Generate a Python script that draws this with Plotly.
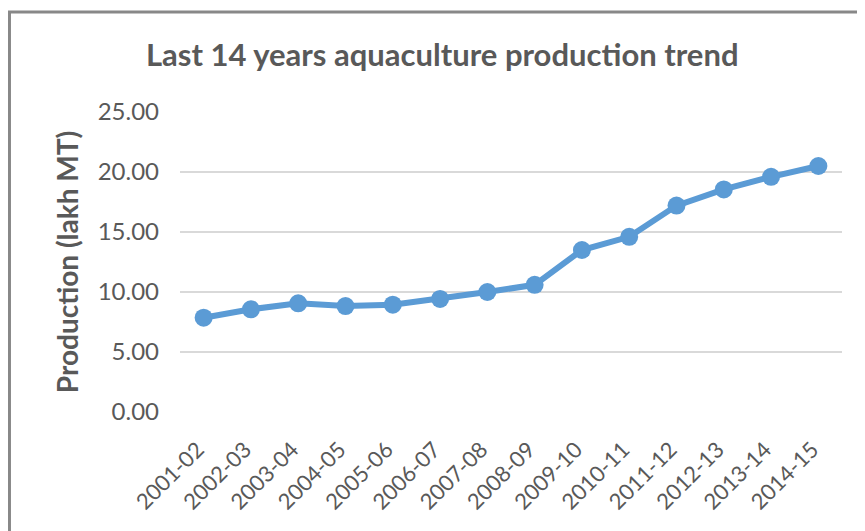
import plotly.graph_objects as go

years = ["2001-02", "2002-03", "2003-04", "2004-05", "2005-06", "2006-07",
         "2007-08", "2008-09", "2009-10", "2010-11", "2011-12", "2012-13",
         "2013-14", "2014-15"]
production = [7.86, 8.56, 9.06, 8.83, 8.94, 9.42, 10.0, 10.6, 13.5, 14.6,
              17.2, 18.55, 19.6, 20.5]
y_ticks = [0, 5, 10, 15, 20, 25]

fig = go.Figure(go.Scatter(
    x=years, y=production, mode="lines+markers",
    line=dict(color="#5B9BD5", width=6),
    marker=dict(color="#5B9BD5", size=18),
))

# page body has an 8px margin, so everything is shifted up/left by 8px
fig.update_layout(
    width=865, height=531,
    margin=dict(l=172, r=31, t=104, b=127),
    paper_bgcolor="white", plot_bgcolor="white",
    font=dict(family="Lato", color="#595959"),
    showlegend=False,
    title=dict(text="<b>Last 14 years aquaculture production trend</b>",
               x=0.502, xanchor="center", y=0.9115, yanchor="middle",
               font=dict(size=31, color="#595959")),
    shapes=[dict(type="rect", xref="paper", yref="paper",
                 x0=-0.2576, x1=2, y0=-2, y1=1.333,
                 line=dict(color="#888888", width=3), layer="below")],
)
fig.update_xaxes(type="category", range=[-0.5, 13.5], tickangle=-45,
                 showline=False, showgrid=False, automargin=False,
                 ticks="outside", ticklen=15, tickcolor="rgba(0,0,0,0)",
                 ticklabelshift=-6,
                 tickfont=dict(size=22, color="#595959"))
fig.update_yaxes(range=[0, 25], tickvals=y_ticks, tickformat=".2f",
                 showgrid=True, gridcolor="#D9D9D9", gridwidth=1.5,
                 zeroline=False, showline=False, ticks="", automargin=False,
                 ticklabelstandoff=20,
                 tickfont=dict(size=24, color="#595959"),
                 title=dict(text="<b>Production (lakh MT)</b>", standoff=10,
                            font=dict(size=28, color="#595959")))

fig.write_html("out.html")
